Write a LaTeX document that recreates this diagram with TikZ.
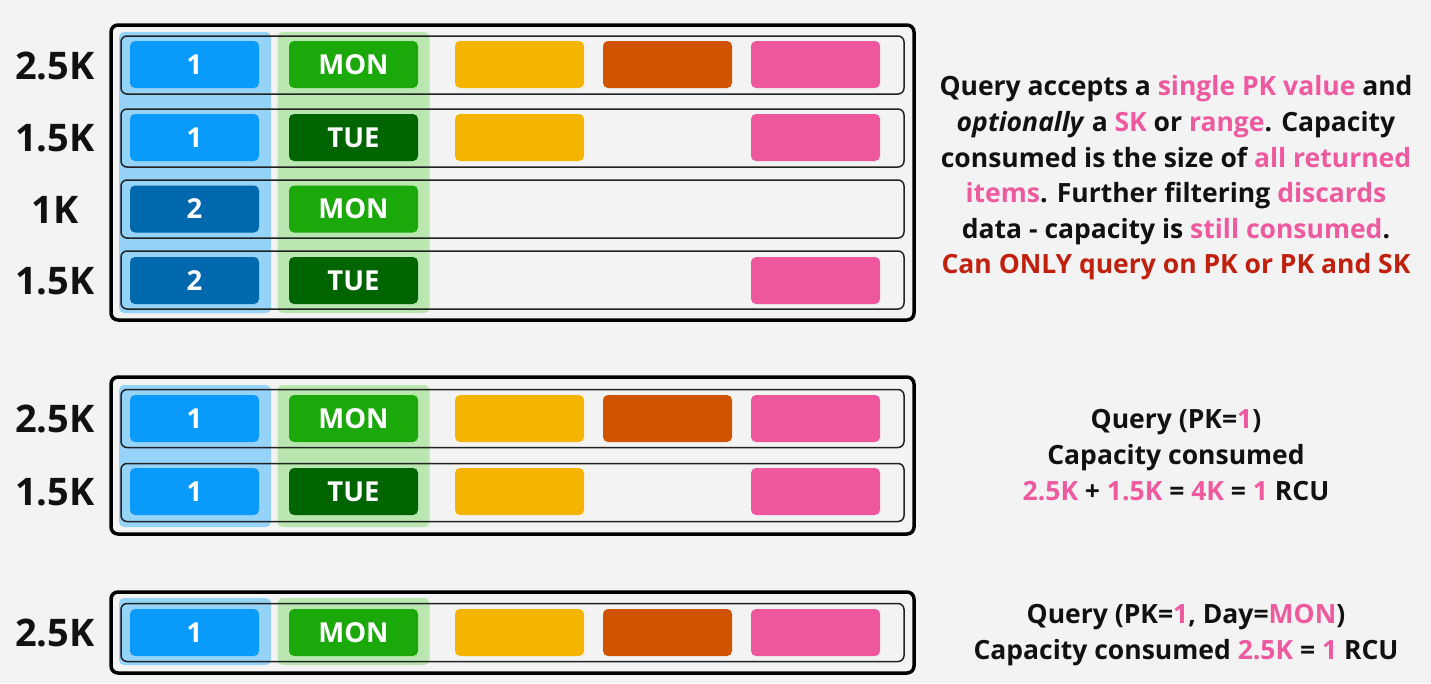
\documentclass[tikz,border=0pt]{standalone}
\usepackage{fontspec}
\setmainfont{Open Sans}
\definecolor{bg}{HTML}{F3F3F3}
\definecolor{ink}{HTML}{111111}
\definecolor{rowline}{HTML}{222222}
\definecolor{pkblue}{HTML}{0A9AFA}
\definecolor{pkdark}{HTML}{0069AD}
\definecolor{skgreen}{HTML}{1AA80A}
\definecolor{skdark}{HTML}{006400}
\definecolor{attrA}{HTML}{F4B400}
\definecolor{attrB}{HTML}{D05400}
\definecolor{attrC}{HTML}{EE579B}
\definecolor{hlblue}{HTML}{95D3F8}
\definecolor{hlgreen}{HTML}{BAE7B0}
\definecolor{pinkt}{HTML}{EE5AA0}
\definecolor{redt}{HTML}{C0210F}
\begin{document}
\begin{tikzpicture}[x=1pt,y=-1pt,
  cell/.style={minimum width=129pt, minimum height=47pt, rounded corners=5pt, inner sep=0pt, text=white, font=\fontsize{27.5}{27.5}\selectfont\bfseries},
  rowbox/.style={draw=rowline, line width=1.5pt, rounded corners=6pt, minimum width=783pt, minimum height=58pt, inner sep=0pt},
  outerbox/.style={draw=black, line width=3.5pt, rounded corners=7pt, minimum width=803pt, inner sep=0pt},
  hl/.style={rounded corners=5pt, minimum width=152pt, inner sep=0pt},
  sizelbl/.style={text=ink, font=\fontsize{38}{38}\selectfont\bfseries, inner sep=0pt},
  info/.style={text=ink, align=center, font=\fontsize{26.5}{35.6}\selectfont\bfseries, inner sep=0pt}
]
\fill[bg] (0,0) rectangle (1431,683);
\useasboundingbox (0,0) rectangle (1431,683);

% ---------- Table 1 ----------
\node[hl, fill=hlblue, minimum height=281pt] (t1hb) at (195,172.5) {};
\node[hl, fill=hlgreen, minimum height=281pt] (t1hg) at (353.5,172.5) {};
\node[outerbox, minimum height=295pt] (t1) at (512.5,172.5) {};
\node[rowbox] (t1r1) at (512.5,65) {};
\node[rowbox] (t1r2) at (512.5,138) {};
\node[rowbox] (t1r3) at (512.5,209) {};
\node[rowbox] (t1r4) at (512.5,280) {};
\node[cell, fill=pkblue] (t1a1) at (194.5,64.5) {1};
\node[cell, fill=skgreen] (t1b1) at (353.5,64.5) {MON};
\node[cell, fill=attrA] (t1c1) at (519.5,64.5) {};
\node[cell, fill=attrB] (t1d1) at (667.5,64.5) {};
\node[cell, fill=attrC] (t1e1) at (815.5,64.5) {};
\node[cell, fill=pkblue] (t1a2) at (194.5,137.5) {1};
\node[cell, fill=skdark] (t1b2) at (353.5,137.5) {TUE};
\node[cell, fill=attrA] (t1c2) at (519.5,137.5) {};
\node[cell, fill=attrC] (t1e2) at (815.5,137.5) {};
\node[cell, fill=pkdark] (t1a3) at (194.5,209) {2};
\node[cell, fill=skgreen] (t1b3) at (353.5,209) {MON};
\node[cell, fill=pkdark] (t1a4) at (194.5,280.5) {2};
\node[cell, fill=skdark] (t1b4) at (353.5,280.5) {TUE};
\node[cell, fill=attrC] (t1e4) at (815.5,280.5) {};
\node[sizelbl] (t1l1) at (55,66) {2.5K};
\node[sizelbl] (t1l2) at (55,138) {1.5K};
\node[sizelbl] (t1l3) at (55,210) {1K};
\node[sizelbl] (t1l4) at (55,281) {1.5K};

% ---------- Table 2 ----------
\node[hl, fill=hlblue, minimum height=142pt] (t2hb) at (195,456) {};
\node[hl, fill=hlgreen, minimum height=142pt] (t2hg) at (353.5,456) {};
\node[outerbox, minimum height=157pt] (t2) at (512.5,455.5) {};
\node[rowbox] (t2r1) at (512.5,418.5) {};
\node[rowbox] (t2r2) at (512.5,492.5) {};
\node[cell, fill=pkblue] (t2a1) at (194.5,418.5) {1};
\node[cell, fill=skgreen] (t2b1) at (353.5,418.5) {MON};
\node[cell, fill=attrA] (t2c1) at (519.5,418.5) {};
\node[cell, fill=attrB] (t2d1) at (667.5,418.5) {};
\node[cell, fill=attrC] (t2e1) at (815.5,418.5) {};
\node[cell, fill=pkblue] (t2a2) at (194.5,491.5) {1};
\node[cell, fill=skdark] (t2b2) at (353.5,491.5) {TUE};
\node[cell, fill=attrA] (t2c2) at (519.5,491.5) {};
\node[cell, fill=attrC] (t2e2) at (815.5,491.5) {};
\node[sizelbl] (t2l1) at (55,419) {2.5K};
\node[sizelbl] (t2l2) at (55,492) {1.5K};

% ---------- Table 3 ----------
\node[hl, fill=hlblue, minimum height=67pt] (t3hb) at (195,631.5) {};
\node[hl, fill=hlgreen, minimum height=67pt] (t3hg) at (353.5,631.5) {};
\node[outerbox, minimum height=81pt] (t3) at (512.5,632.5) {};
\node[rowbox] (t3r1) at (512.5,632.5) {};
\node[cell, fill=pkblue] (t3a1) at (194.5,632.5) {1};
\node[cell, fill=skgreen] (t3b1) at (353.5,632.5) {MON};
\node[cell, fill=attrA] (t3c1) at (519.5,632.5) {};
\node[cell, fill=attrB] (t3d1) at (667.5,632.5) {};
\node[cell, fill=attrC] (t3e1) at (815.5,632.5) {};
\node[sizelbl] (t3l1) at (55,633) {2.5K};

% ---------- Text ----------
\node[info] (txt1) at (1176,178) {Query accepts a \textcolor{pinkt}{single PK value} and\\
\textit{optionally} a \textcolor{pinkt}{SK} or \textcolor{pinkt}{range}. Capacity\\
consumed is the size of \textcolor{pinkt}{all returned}\\
\textcolor{pinkt}{items}. Further filtering \textcolor{pinkt}{discards}\\
data - capacity is \textcolor{pinkt}{still consumed}.\\
\textcolor{redt}{Can ONLY query on PK or PK and SK}};

\node[info] (txt2) at (1176,455) {Query (PK=\textcolor{pinkt}{1})\\
Capacity consumed\\
\textcolor{pinkt}{2.5K} + \textcolor{pinkt}{1.5K} = \textcolor{pinkt}{4K} = \textcolor{pinkt}{1} RCU};

\node[info] (txt3) at (1186,635) {Query (PK=\textcolor{pinkt}{1}, Day=\textcolor{pinkt}{MON})\\
Capacity consumed \textcolor{pinkt}{2.5K} = \textcolor{pinkt}{1} RCU};
\end{tikzpicture}
\end{document}
